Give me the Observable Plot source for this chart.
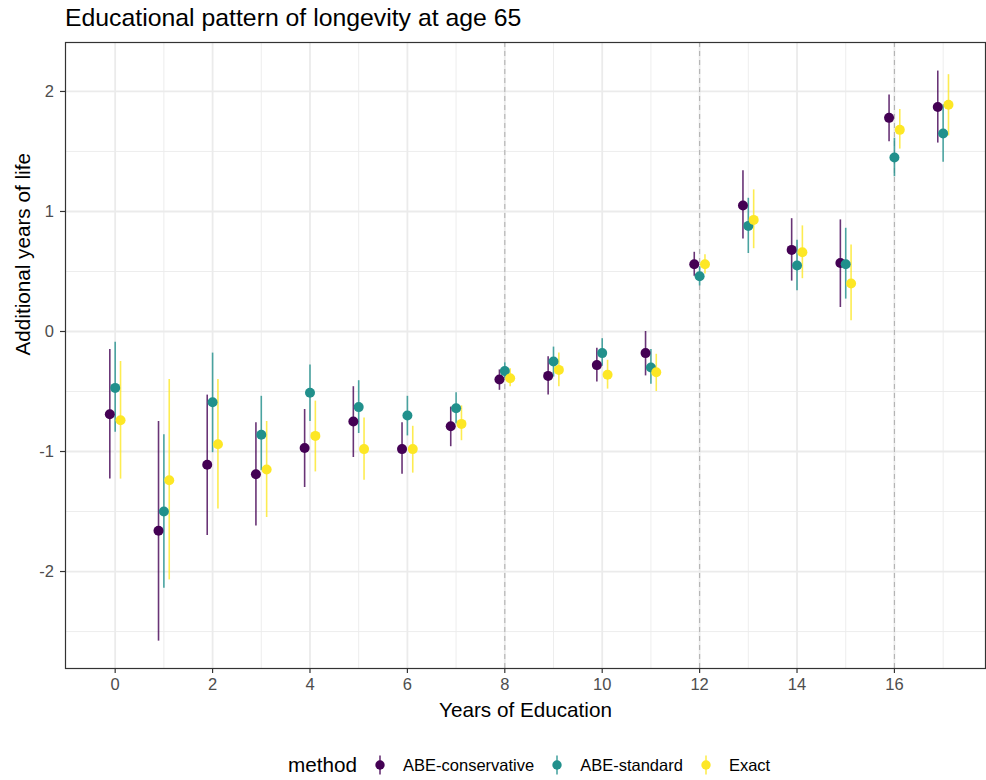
<!DOCTYPE html>
<html>
<head>
<meta charset="utf-8">
<script src="https://cdn.jsdelivr.net/npm/d3@7"></script>
<script src="https://cdn.jsdelivr.net/npm/@observablehq/plot@0.6"></script>
<style>
  html, body { margin: 0; padding: 0; overflow: hidden; background: #fff; font-family: "Liberation Sans", Arial, sans-serif; }
  #title { height: 36px; font-size: 24.8px; padding-left: 65px; line-height: 36px; color: #000; white-space: nowrap; }
  #chart svg { display: block; }
  #legend { height: 34px; display: flex; align-items: center; justify-content: flex-start; padding-left: 288px; padding-top: 2px; font-size: 16.5px; color: #000; white-space: nowrap; }
  #legend .ttl { font-size: 20.7px; margin-right: 17px; }
  #legend .item { display: flex; align-items: center; margin-right: 17px; }
  #legend svg { margin-right: 17px; display: block; }
</style>
</head>
<body>
<div id="title">Educational pattern of longevity at age 65</div>
<div id="chart"></div>
<div id="legend"></div>
<script>
const methods = ["ABE-conservative", "ABE-standard", "Exact"];
const colors = ["#440154", "#21908C", "#FDE725"];
const years = [0, 1, 2, 3, 4, 5, 6, 7, 8, 9, 10, 11, 12, 13, 14, 15, 16, 17];
const xTicks = [0, 2, 4, 6, 8, 10, 12, 14, 16];
const xMinor = [1, 3, 5, 7, 9, 11, 13, 15, 17];
const yTicks = [-2, -1, 0, 1, 2];
const yMinor = [-2.5, -1.5, -0.5, 0.5, 1.5];
const refLines = [8, 12, 16];

const consEst = [-0.69, -1.66, -1.11, -1.19, -0.97, -0.75, -0.98, -0.79, -0.40, -0.37, -0.28, -0.18, 0.56, 1.05, 0.68, 0.57, 1.78, 1.87];
const consLo  = [-1.23, -2.58, -1.70, -1.62, -1.30, -1.05, -1.19, -0.96, -0.49, -0.53, -0.42, -0.37, 0.46, 0.77, 0.42, 0.20, 1.58, 1.57];
const consHi  = [-0.15, -0.75, -0.53, -0.76, -0.65, -0.46, -0.76, -0.63, -0.32, -0.21, -0.14, 0.00, 0.66, 1.34, 0.94, 0.93, 1.97, 2.17];

const stdEst = [-0.47, -1.50, -0.59, -0.86, -0.51, -0.63, -0.70, -0.64, -0.33, -0.25, -0.18, -0.30, 0.46, 0.88, 0.55, 0.56, 1.45, 1.65];
const stdLo  = [-0.84, -2.14, -1.01, -1.16, -0.75, -0.85, -0.87, -0.77, -0.39, -0.38, -0.29, -0.44, 0.38, 0.65, 0.34, 0.27, 1.29, 1.41];
const stdHi  = [-0.09, -0.86, -0.18, -0.54, -0.28, -0.41, -0.54, -0.51, -0.26, -0.13, -0.06, -0.15, 0.54, 1.11, 0.76, 0.86, 1.61, 1.89];

const exEst = [-0.74, -1.24, -0.94, -1.15, -0.87, -0.98, -0.98, -0.77, -0.39, -0.32, -0.36, -0.34, 0.56, 0.93, 0.66, 0.40, 1.68, 1.89];
const exLo  = [-1.23, -2.07, -1.48, -1.55, -1.17, -1.24, -1.18, -0.91, -0.46, -0.46, -0.48, -0.50, 0.48, 0.69, 0.44, 0.09, 1.52, 1.63];
const exHi  = [-0.25, -0.40, -0.40, -0.75, -0.58, -0.72, -0.79, -0.62, -0.31, -0.18, -0.24, -0.19, 0.64, 1.18, 0.88, 0.72, 1.85, 2.14];

const series = [
  [consEst, consLo, consHi],
  [stdEst, stdLo, stdHi],
  [exEst, exLo, exHi]
];
const dodge = 0.11;
const data = [];
series.forEach(([est, lo, hi], m) => {
  years.forEach((yr, i) => {
    data.push({method: methods[m], edu: yr, xd: yr + (m - 1) * dodge, est: est[i], lo: lo[i], hi: hi[i]});
  });
});

const font = "'Liberation Sans', Arial, sans-serif";
const chart = Plot.plot({
  width: 986,
  height: 710,
  marginTop: 6,
  marginLeft: 65,
  marginRight: 1,
  marginBottom: 78,
  style: {fontFamily: font, background: "#fff"},
  x: {domain: [-1.02, 17.87], axis: null},
  y: {domain: [-2.808, 2.408], axis: null},
  color: {domain: methods, range: colors},
  marks: [
    Plot.gridX(xMinor, {stroke: "#ebebeb", strokeOpacity: 1, strokeWidth: 0.9}),
    Plot.gridY(yMinor, {stroke: "#ebebeb", strokeOpacity: 1, strokeWidth: 0.9}),
    Plot.gridX(xTicks, {stroke: "#ebebeb", strokeOpacity: 1, strokeWidth: 1.8}),
    Plot.gridY(yTicks, {stroke: "#ebebeb", strokeOpacity: 1, strokeWidth: 1.8}),
    Plot.ruleX(refLines, {stroke: "#b3b3b3", strokeWidth: 1.1, strokeDasharray: "5,4"}),
    Plot.ruleX(data, {x: "xd", y1: "lo", y2: "hi", stroke: "method", strokeWidth: 1.6, strokeOpacity: 0.8}),
    Plot.dot(data, {x: "xd", y: "est", fill: "method", r: 5}),
    Plot.frame({stroke: "#333333", strokeWidth: 1.2}),
    Plot.axisX(xTicks, {tickSize: 5, tickPadding: 4.5, fontSize: 16.5, color: "#4d4d4d", stroke: "#333333", strokeWidth: 1.2, label: null, tickFormat: d => String(d)}),
    Plot.axisY(yTicks, {tickSize: 5, tickPadding: 6.5, fontSize: 16.5, color: "#4d4d4d", stroke: "#333333", strokeWidth: 1.2, label: null, tickFormat: d => String(d)}),
    Plot.text(["Years of Education"], {frameAnchor: "bottom", dy: 48, fontSize: 20.7, fill: "#000"}),
    Plot.text(["Additional years of life"], {frameAnchor: "left", dx: -42, rotate: -90, fontSize: 20.7, fill: "#000"})
  ]
});
document.getElementById("chart").appendChild(chart);

const legend = document.getElementById("legend");
const t = document.createElement("span");
t.className = "ttl";
t.textContent = "method";
legend.appendChild(t);
methods.forEach((m, i) => {
  const item = document.createElement("span");
  item.className = "item";
  item.innerHTML = `<svg width="12" height="22"><line x1="6" x2="6" y1="1.5" y2="20.5" stroke="${colors[i]}" stroke-width="1.6" stroke-opacity="0.8"/><circle cx="6" cy="11" r="4.7" fill="${colors[i]}"/></svg>`;
  const s = document.createElement("span");
  s.textContent = m;
  item.appendChild(s);
  legend.appendChild(item);
});
</script>
</body>
</html>
